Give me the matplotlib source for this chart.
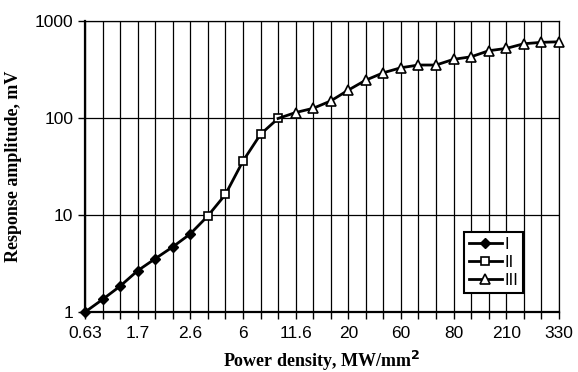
import matplotlib.pyplot as plt
import numpy as np

# category positions on the x axis (evenly spaced, labelled every third)
tick_labels = ['0.63', '1.7', '2.6', '6', '11.6', '20', '60', '80', '210', '330']
n_points = 28

# series values (index, amplitude mV)
x_I = [0, 1, 2, 3, 4, 5, 6]
y_I = [1.0, 1.35, 1.85, 2.67, 3.55, 4.7, 6.4]

x_II = [6, 7, 8, 9, 10, 11]
y_II = [6.4, 9.8, 16.3, 36, 68, 99]

x_III = [11, 12, 13, 14, 15, 16, 17, 18, 19, 20, 21, 22, 23, 24, 25, 26, 27]
y_III = [99, 114, 126, 150, 194, 246, 293, 330, 352, 352, 403, 428, 494, 522, 583, 603, 611]

fig = plt.figure(figsize=(5.78, 3.72), dpi=100)
ax = fig.add_axes([0.147, 0.161, 0.82, 0.7825])

ax.plot(x_I, y_I, color='black', lw=2, marker='D', ms=5.5,
        mfc='black', mec='black', label='I', clip_on=False, zorder=3)
ax.plot(x_II, y_II, color='black', lw=2, marker='s', ms=6,
        mfc='white', mec='black', mew=1.2, markevery=slice(1, None),
        label='II', clip_on=False, zorder=3)
ax.plot(x_III, y_III, color='black', lw=2, marker='^', ms=7,
        mfc='white', mec='black', mew=1.2, markevery=slice(1, None),
        label='III', clip_on=False, zorder=3)

ax.set_yscale('log')
ax.set_ylim(1, 1000)
ax.set_xlim(0, n_points - 1)
ax.set_yticks([1, 10, 100, 1000])
ax.set_yticklabels(['1', '10', '100', '1000'])
ax.yaxis.set_minor_locator(plt.NullLocator())

ax.set_xticks(np.arange(n_points))
ax.set_xticklabels([tick_labels[i // 3] if i % 3 == 0 else '' for i in range(n_points)])

ax.grid(True, which='major', color='black', lw=0.9)
ax.set_axisbelow(True)

for lab in ax.get_xticklabels() + ax.get_yticklabels():
    lab.set_fontfamily('Liberation Sans')
    lab.set_fontsize(12.5)
ax.tick_params(axis='both', direction='out', length=5, width=1, colors='black')
ax.tick_params(axis='x', pad=5)

for side in ['top', 'right']:
    ax.spines[side].set_linewidth(0.9)
ax.spines['left'].set_linewidth(1.6)
ax.spines['bottom'].set_linewidth(1.6)

ax.set_xlabel('Power density, MW/mm$^{\\mathbf{2}}$', fontfamily='Liberation Serif',
              fontweight='bold', fontsize=13, labelpad=6)
ax.set_ylabel('Response amplitude, mV', fontfamily='Liberation Serif',
              fontweight='bold', fontsize=13, labelpad=9)

leg = ax.legend(loc='lower right', bbox_to_anchor=(0.925, 0.065), fancybox=False,
                framealpha=1, edgecolor='black', handlelength=2.0,
                handletextpad=0.15, borderpad=0.3, labelspacing=0.2,
                borderaxespad=0, prop={'family': 'Liberation Sans', 'size': 12})
leg.get_frame().set_linewidth(1.5)

plt.savefig('out.png', dpi=100)
plt.close()
